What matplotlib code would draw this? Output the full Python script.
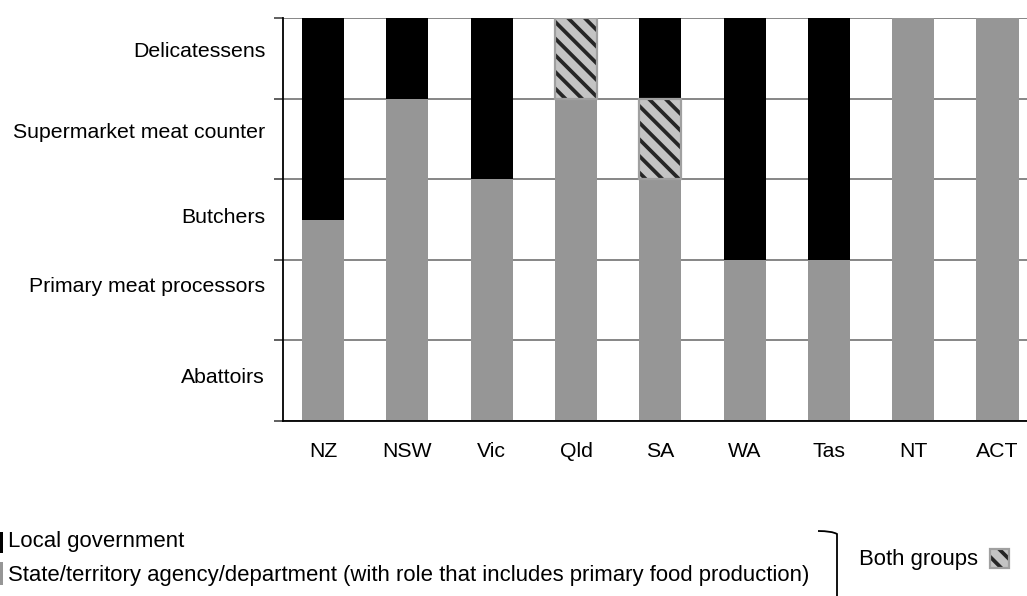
import matplotlib
matplotlib.use("Agg")
import matplotlib.pyplot as plt
from matplotlib.patches import Rectangle, PathPatch
from matplotlib.path import Path

# Jurisdictions and the number of business types (stacked from Abattoirs up)
# handled by each type of agency
jurisdictions = ["NZ", "NSW", "Vic", "Qld", "SA", "WA", "Tas", "NT", "ACT"]
state_agency = [2.5, 4, 3, 4, 3, 2, 2, 5, 5]
both_groups = [0, 0, 0, 1, 1, 0, 0, 0, 0]
local_gov = [2.5, 1, 2, 0, 1, 3, 3, 0, 0]

business_types = ["Abattoirs", "Primary meat processors", "Butchers",
                  "Supermarket meat counter", "Delicatessens"]
label_y = [0.57, 1.69, 2.55, 3.60, 4.61]

legend_local = "Local government"
legend_state = ("State/territory agency/department (with role that includes "
                "primary food production)")
legend_both = "Both groups"

W, H = 1027, 596
plt.rcParams["font.family"] = ["Liberation Sans", "DejaVu Sans"]
plt.rcParams["hatch.linewidth"] = 2.7
FS = 15.3
LFS = 15.9
HATCH = "\\\\"

GREY = "#969696"
HATCH_FACE = "#c4c4c4"
HATCH_LINE = "#262626"
GRID = "#868686"

fig = plt.figure(figsize=(W / 100, H / 100), dpi=100)


def fx(px):
    return px / W


def fy(py):
    return 1 - py / H


# axes box in pixels: left spine at 282.5, y from 18 (top) to 421 (bottom)
ax = fig.add_axes([fx(282.5), fy(421), fx(758.9), (421 - 18) / H])
x = list(range(len(jurisdictions)))
bw = 0.5

ax.bar(x, state_agency, width=bw, color=GREY, zorder=2)
ax.bar(x, both_groups, width=bw, bottom=state_agency, color=HATCH_FACE,
       edgecolor=HATCH_LINE, hatch=HATCH, linewidth=0, zorder=2)
ax.bar(x, both_groups, width=bw, bottom=state_agency, color="none",
       edgecolor=[("#a0a0a0" if b > 0 else "none") for b in both_groups],
       linewidth=1.6, zorder=3)
stack = [s + b for s, b in zip(state_agency, both_groups)]
ax.bar(x, local_gov, width=bw, bottom=stack, color="black", zorder=2)

ax.set_xlim(-0.48, 8.52)
ax.set_ylim(0, 5)
ax.set_xticks(x)
ax.set_xticklabels(jurisdictions, fontsize=FS)
ax.tick_params(axis="x", length=0, pad=15)

ax.set_yticks(range(0, 6))
ax.set_yticklabels([])
ax.set_yticks(label_y, minor=True)
ax.set_yticklabels(business_types, minor=True, fontsize=FS)
ax.tick_params(axis="y", which="major", length=6.5, width=1.2, color="#444")
ax.tick_params(axis="y", which="minor", length=0, pad=12.5)

ax.yaxis.grid(True, which="major", color=GRID, linewidth=1.4, zorder=1)
ax.set_axisbelow(True)
for side in ["top", "right"]:
    ax.spines[side].set_visible(False)
ax.spines["left"].set_linewidth(1.3)
ax.spines["bottom"].set_linewidth(1.3)

# legend rows (boxes sit mostly off the left edge)
fig.patches.append(Rectangle((fx(-12), fy(553)), fx(15), (553 - 532) / H,
                             transform=fig.transFigure, facecolor="black",
                             edgecolor="none"))
fig.patches.append(Rectangle((fx(-12), fy(585)), fx(15), (585 - 562) / H,
                             transform=fig.transFigure, facecolor=GREY,
                             edgecolor="none"))
fig.text(fx(8), fy(542), legend_local, fontsize=LFS, va="center", ha="left")
fig.text(fx(8), fy(576), legend_state, fontsize=LFS, va="center", ha="left")

# bracket grouping the two rows
verts = [(fx(818), fy(531)), (fx(832), fy(531)), (fx(837), fy(534)),
         (fx(837), fy(545)), (fx(837), fy(605))]
codes = [Path.MOVETO, Path.CURVE3, Path.CURVE3, Path.LINETO, Path.LINETO]
fig.patches.append(PathPatch(Path(verts, codes), transform=fig.transFigure,
                             facecolor="none", edgecolor="black", linewidth=1.3))

fig.text(fx(859), fy(560), legend_both, fontsize=LFS, va="center", ha="left")
fig.patches.append(Rectangle((fx(990), fy(568)), fx(19), 19 / H,
                             transform=fig.transFigure, facecolor=HATCH_FACE,
                             edgecolor=HATCH_LINE, hatch=HATCH,
                             linewidth=0))
fig.patches.append(Rectangle((fx(990), fy(568)), fx(19), 19 / H,
                             transform=fig.transFigure, facecolor="none",
                             edgecolor="#a0a0a0", linewidth=1.6))

fig.savefig("out.png", dpi=100)
